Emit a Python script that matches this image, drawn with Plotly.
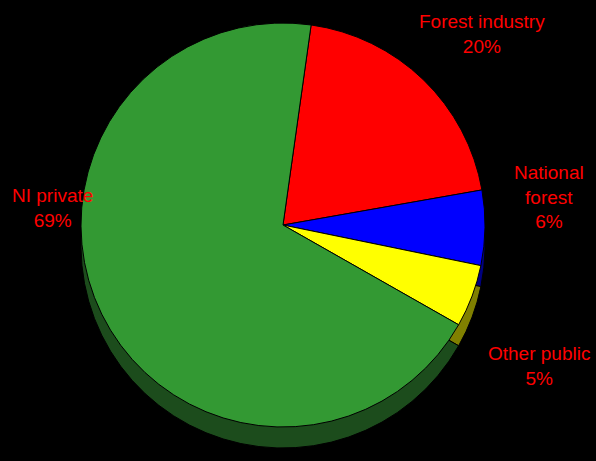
import plotly.graph_objects as go

categories = ["Forest industry", "National forest", "Other public", "NI private"]
values = [20, 6, 5, 69]
label_lines = {"Forest industry": "Forest industry", "National forest": "National<br>forest",
               "Other public": "Other public", "NI private": "NI private"}
top_colors = ["#FF0000", "#0000FF", "#FFFF00", "#339933"]
side_colors = ["#800000", "#000080", "#808000", "#1C4C1C"]

W, H = 596, 461
cx, cy, d, depth = 283, 225, 404, 21

def dom(cx, cy, d):
    return dict(x=[(cx - d / 2) / W, (cx + d / 2) / W],
                y=[1 - (cy + d / 2) / H, 1 - (cy - d / 2) / H])

common = dict(labels=categories, values=values, sort=False, direction="clockwise",
              rotation=8, textinfo="none", hoverinfo="skip", showlegend=False)

fig = go.Figure()
fig.add_trace(go.Pie(**common, domain=dom(cx, cy + depth, d),
                     marker=dict(colors=side_colors, line=dict(color="#000000", width=1))))
fig.add_trace(go.Pie(**common, domain=dom(cx, cy, d),
                     marker=dict(colors=top_colors, line=dict(color="#000000", width=1))))

label_pos = {"Forest industry": (482, 34), "National forest": (549, 197),
             "Other public": (539, 366), "NI private": (52, 208)}
for cat, val in zip(categories, values):
    px, py = label_pos[cat]
    fig.add_annotation(x=px / W, y=1 - py / H, xref="paper", yref="paper",
                       text=f"{label_lines[cat]}<br>{val}%", showarrow=False,
                       xanchor="center", yanchor="middle",
                       font=dict(family="Liberation Sans, Arial", size=19, color="#FF0000"))

fig.update_layout(width=W, height=H, margin=dict(l=0, r=0, t=0, b=0),
                  paper_bgcolor="#000000", plot_bgcolor="#000000")
fig.write_html("out.html", config={"displayModeBar": False},
               post_script="document.body.style.margin='0';document.body.style.background='#000';")
